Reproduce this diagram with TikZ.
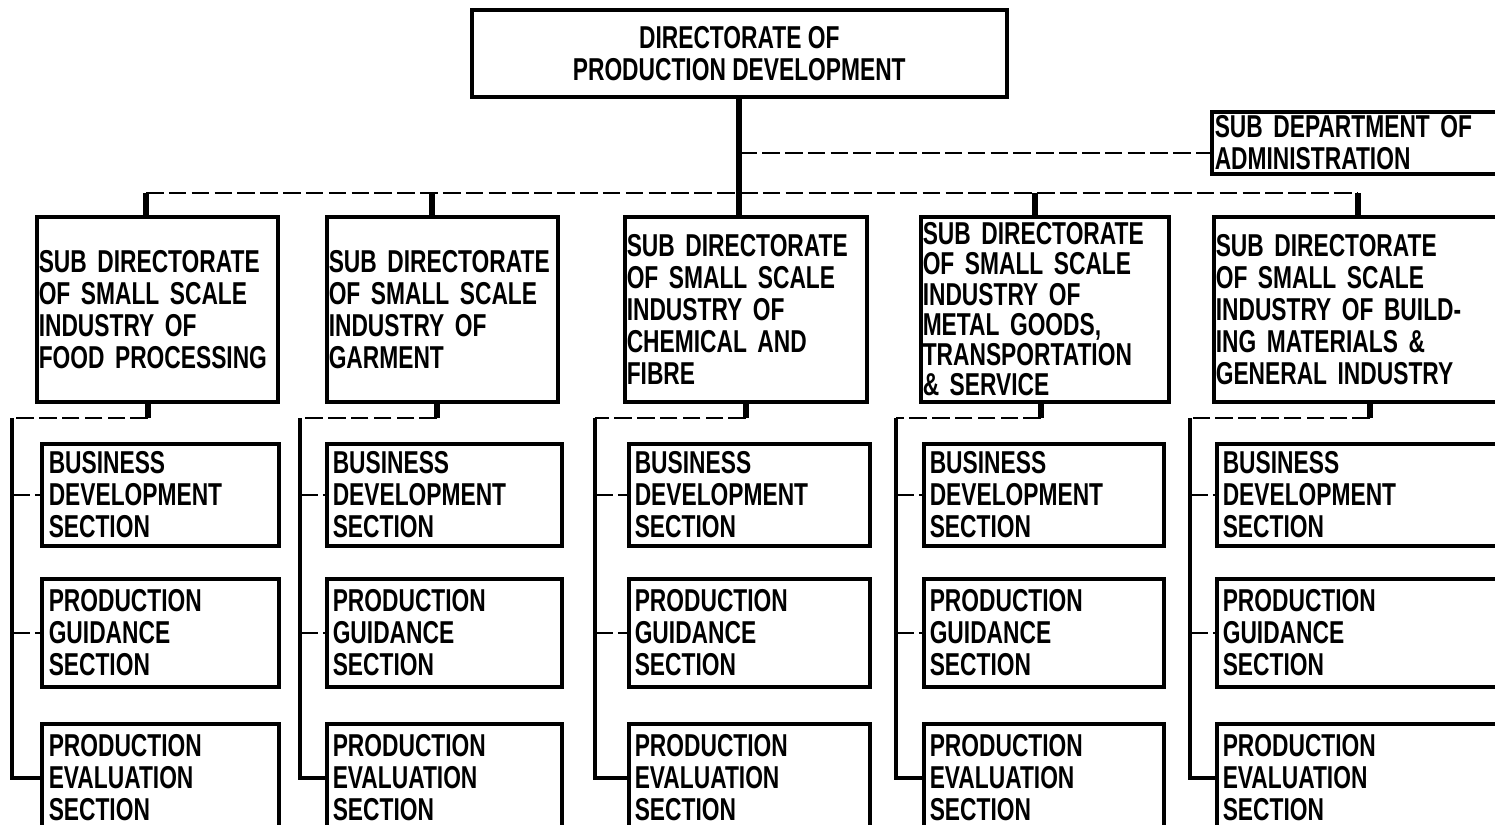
\documentclass[tikz,border=0pt]{standalone}
\usepackage{fontspec}
\setmainfont{Liberation Sans}[FakeStretch=0.72]

\newcommand{\orgfont}{\bfseries\fontsize{9}{9.1}\selectfont}
\newcommand{\orgtightfont}{\bfseries\fontsize{9}{8.6}\selectfont}

\tikzset{
  orgbox/.style={draw, line width=1pt, anchor=north west, align=left,
    inner ysep=0.3mm, font=\orgfont},
  subbox/.style={orgbox, inner xsep=0.2mm, minimum height=18.5mm, text width=#1},
  secbox/.style={orgbox, inner xsep=0.6mm, minimum height=10.8mm, text width=#1},
  link/.style={line width=0.6pt, dash pattern=on 5pt off 1.5pt},
  drop/.style={line width=1.6pt},
  rail/.style={line width=1pt}
}

\begin{document}
\begin{tikzpicture}[x=0.1mm, y=-0.1mm]
        \useasboundingbox (0,0) rectangle (1495,824);

        % Draw the directorate and the administration
        \node[orgbox, align=center, minimum width=53.5mm, minimum height=8.7mm] (dir) at (470,8)
            {DIRECTORATE OF\\PRODUCTION DEVELOPMENT};
        \node[orgbox, inner xsep=0.3mm, text width=30mm, minimum height=6.2mm] (admin) at (1210,110)
            {SUB DEPARTMENT OF\\ADMINISTRATION};

        \coordinate (adm) at (dir.south |- 0,153);
        \draw[link] (adm) -- (adm -| admin.west);

        % Draw the sub directorates
        \node[subbox=23.7mm] (sub1) at (35,215)
            {SUB DIRECTORATE\\OF SMALL SCALE\\INDUSTRY OF\\FOOD PROCESSING};
        \node[subbox=22.7mm] (sub2) at (325,215)
            {SUB DIRECTORATE\\OF SMALL SCALE\\INDUSTRY OF\\GARMENT};
        \node[subbox=23.8mm] (sub3) at (623,215)
            {SUB DIRECTORATE\\OF SMALL SCALE\\INDUSTRY OF\\CHEMICAL AND\\FIBRE};
        \node[subbox=24.4mm, font=\orgtightfont, inner ysep=0.1mm] (sub4) at (919,215)
            {SUB DIRECTORATE\\OF SMALL SCALE\\INDUSTRY OF\\METAL GOODS,\\TRANSPORTATION\\\& SERVICE};
        \node[subbox=31mm] (sub5) at (1212,215)
            {SUB DIRECTORATE\\OF SMALL SCALE\\INDUSTRY OF BUILD-\\ING MATERIALS \&\\GENERAL INDUSTRY};

        % Draw the bus under the directorate
        \coordinate (bus1) at (146,193);
        \coordinate (bus2) at (432,193);
        \coordinate (bus4) at (1035,193);
        \coordinate (bus5) at (1358,193);

        \draw[link] (bus1) -- (bus5);
        \draw[drop] (dir.south) -- (dir.south |- sub3.north);
        \draw[drop] (bus1) -- (bus1 |- sub1.north);
        \draw[drop] (bus2) -- (bus2 |- sub2.north);
        \draw[drop] (bus4) -- (bus4 |- sub4.north);
        \draw[drop] (bus5) -- (bus5 |- sub5.north);

        % Draw the sections of the first column
        \node[secbox=22.3mm, inner xsep=0.7mm, minimum height=10.2mm] (bd1) at (40,442) {BUSINESS\\DEVELOPMENT\\SECTION};
        \node[secbox=22.3mm, inner xsep=0.7mm] (pg1) at (40,577) {PRODUCTION\\GUIDANCE\\SECTION};
        \node[secbox=22.3mm, inner xsep=0.7mm] (pe1) at (40,722) {PRODUCTION\\EVALUATION\\SECTION};

        \coordinate (e1) at (148,418);
        \coordinate (r1) at (12,418);
        \draw[drop] (e1 |- sub1.south) -- (e1);
        \draw[link] (e1) -- (r1);
        \draw[rail] (r1) -- (r1 |- pe1.west) -- (pe1.west);
        \draw[link] (r1 |- bd1.west) -- (bd1.west);
        \draw[link] (r1 |- pg1.west) -- (pg1.west);

        % Draw the sections of the second column
        \node[secbox=22.3mm, minimum height=10.2mm] (bd2) at (325,442) {BUSINESS\\DEVELOPMENT\\SECTION};
        \node[secbox=22.3mm] (pg2) at (325,577) {PRODUCTION\\GUIDANCE\\SECTION};
        \node[secbox=22.3mm] (pe2) at (325,722) {PRODUCTION\\EVALUATION\\SECTION};

        \coordinate (e2) at (437,418);
        \coordinate (r2) at (300,418);
        \draw[drop] (e2 |- sub2.south) -- (e2);
        \draw[link] (e2) -- (r2);
        \draw[rail] (r2) -- (r2 |- pe2.west) -- (pe2.west);
        \draw[link] (r2 |- bd2.west) -- (bd2.west);
        \draw[link] (r2 |- pg2.west) -- (pg2.west);

        % Draw the sections of the third column
        \node[secbox=22.9mm, minimum height=10.2mm] (bd3) at (627,442) {BUSINESS\\DEVELOPMENT\\SECTION};
        \node[secbox=22.9mm] (pg3) at (627,577) {PRODUCTION\\GUIDANCE\\SECTION};
        \node[secbox=22.9mm] (pe3) at (627,722) {PRODUCTION\\EVALUATION\\SECTION};

        \coordinate (e3) at (746,418);
        \coordinate (r3) at (595,418);
        \draw[drop] (e3 |- sub3.south) -- (e3);
        \draw[link] (e3) -- (r3);
        \draw[rail] (r3) -- (r3 |- pe3.west) -- (pe3.west);
        \draw[link] (r3 |- bd3.west) -- (bd3.west);
        \draw[link] (r3 |- pg3.west) -- (pg3.west);

        % Draw the sections of the fourth column
        \node[secbox=22.8mm, minimum height=10.2mm] (bd4) at (922,442) {BUSINESS\\DEVELOPMENT\\SECTION};
        \node[secbox=22.8mm] (pg4) at (922,577) {PRODUCTION\\GUIDANCE\\SECTION};
        \node[secbox=22.8mm] (pe4) at (922,722) {PRODUCTION\\EVALUATION\\SECTION};

        \coordinate (e4) at (1041,418);
        \coordinate (r4) at (896,418);
        \draw[drop] (e4 |- sub4.south) -- (e4);
        \draw[link] (e4) -- (r4);
        \draw[rail] (r4) -- (r4 |- pe4.west) -- (pe4.west);
        \draw[link] (r4 |- bd4.west) -- (bd4.west);
        \draw[link] (r4 |- pg4.west) -- (pg4.west);

        % Draw the sections of the fifth column
        \node[secbox=30.5mm, minimum height=10.2mm] (bd5) at (1215,442) {BUSINESS\\DEVELOPMENT\\SECTION};
        \node[secbox=30.5mm] (pg5) at (1215,577) {PRODUCTION\\GUIDANCE\\SECTION};
        \node[secbox=30.5mm] (pe5) at (1215,722) {PRODUCTION\\EVALUATION\\SECTION};

        \coordinate (e5) at (1370,418);
        \coordinate (r5) at (1190,418);
        \draw[drop] (e5 |- sub5.south) -- (e5);
        \draw[link] (e5) -- (r5);
        \draw[rail] (r5) -- (r5 |- pe5.west) -- (pe5.west);
        \draw[link] (r5 |- bd5.west) -- (bd5.west);
        \draw[link] (r5 |- pg5.west) -- (pg5.west);
\end{tikzpicture}
\end{document}
